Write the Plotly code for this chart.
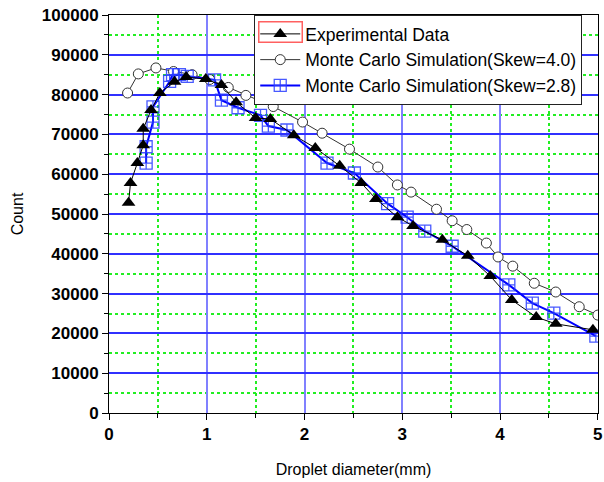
import plotly.graph_objects as go

# Experimental data (triangles)
exp_x = [0.20, 0.22, 0.29, 0.35, 0.35, 0.43, 0.52, 0.67, 0.79, 0.99, 1.15, 1.30, 1.50, 1.65,
         1.89, 2.11, 2.36, 2.58, 2.73, 2.95, 3.11, 3.41, 3.67, 3.90, 4.12, 4.37, 4.57, 4.95]
exp_y = [52800, 57800, 62800, 67300, 71400, 76100, 80400, 83200, 84400, 83900, 82400, 78100, 74100, 73900,
         69800, 66600, 62100, 57800, 53800, 49200, 47000, 43500, 39500, 34400, 28400, 24100, 22400, 20900]

# Monte Carlo Skew=4.0 (open circles)
mc4_x = [0.19, 0.30, 0.48, 0.66, 0.85, 1.03, 1.22, 1.40, 1.68, 1.98, 2.18, 2.46, 2.75, 2.95, 3.09,
         3.35, 3.51, 3.66, 3.86, 3.98, 4.13, 4.35, 4.57, 4.81, 5.00]
mc4_y = [80400, 85200, 86700, 85800, 85000, 83800, 81800, 79800, 77000, 73100, 70300, 66300, 61800, 57300, 55500,
         51200, 48300, 46100, 42700, 39200, 36900, 32600, 30400, 26700, 24600]

# Monte Carlo Skew=2.8 (squares with cross)
mc28_x = [0.38, 0.38, 0.45, 0.45, 0.62, 0.65, 0.72, 0.80, 1.08, 1.15, 1.32, 1.55, 1.63, 1.82,
          2.23, 2.51, 2.85, 3.05, 3.23, 3.51, 4.09, 4.33, 4.55, 4.98]
mc28_y = [62800, 66900, 73100, 76900, 83300, 85000, 85000, 84600, 83700, 78600, 76700, 74800, 72100, 71100,
          62800, 60300, 52600, 49200, 45700, 41900, 32200, 27600, 25100, 19300]

x_ticks = [0, 1, 2, 3, 4, 5]
y_ticks = [0, 10000, 20000, 30000, 40000, 50000, 60000, 70000, 80000, 90000, 100000]

fig = go.Figure()

fig.add_trace(go.Scatter(
    x=mc4_x, y=mc4_y, mode="lines+markers", name="Monte Carlo Simulation(Skew=4.0)",
    line=dict(color="#333333", width=1),
    marker=dict(symbol="circle", size=10, color="white", line=dict(color="#333333", width=1)),
    legendrank=2,
))
fig.add_trace(go.Scatter(
    x=mc28_x, y=mc28_y, mode="lines+markers", name="Monte Carlo Simulation(Skew=2.8)",
    line=dict(color="#0000ff", width=2),
    marker=dict(symbol="square-cross-open", size=12, color="rgba(40,60,255,0.85)", line=dict(width=1.3)),
    legendrank=3,
))
fig.add_trace(go.Scatter(
    x=exp_x, y=exp_y, mode="lines+markers", name="Experimental Data",
    line=dict(color="black", width=1),
    marker=dict(symbol="triangle-up", size=12, color="black"),
    legendrank=1,
))

tickfont = dict(family="Liberation Sans, Arial", size=17, color="black", weight="bold")

fig.update_layout(
    width=604, height=482,
    margin=dict(l=109, r=6, t=15, b=69, autoexpand=False),
    paper_bgcolor="white", plot_bgcolor="white",
    font=dict(family="Liberation Sans, Arial", size=14, color="black"),
    legend=dict(
        x=0.297, y=1, xanchor="left", yanchor="top",
        bgcolor="white", bordercolor="#222222", borderwidth=1,
        font=dict(size=17.5, color="black"), tracegroupgap=0,
        itemwidth=40,
    ),
    xaxis=dict(
        range=[0, 5.002], tickvals=x_ticks, ticktext=[str(v) for v in x_ticks],
        ticklabeloverflow="allow", automargin=False,
        showline=True, linecolor="black", linewidth=1, mirror=True,
        ticks="outside", ticklen=6, tickcolor="black",
        showgrid=True, gridcolor="#8080ff", gridwidth=1.5,
        zeroline=False,
        minor=dict(dtick=0.5, showgrid=True, gridcolor="#22ee22", griddash="3px,3px",
                   ticks="outside", ticklen=4, tickcolor="black"),
        tickfont=tickfont,
        title=dict(text="Droplet diameter(mm)", font=dict(size=16), standoff=20),
    ),
    yaxis=dict(
        range=[0, 100000], tickvals=y_ticks, ticktext=[str(v) for v in y_ticks],
        automargin=False,
        showline=True, linecolor="black", linewidth=1, mirror=True,
        ticks="outside", ticklen=6, tickcolor="black",
        showgrid=True, gridcolor="#3030ff", gridwidth=1.5,
        zeroline=False,
        minor=dict(dtick=5000, showgrid=True, gridcolor="#22ee22", griddash="3px,3px",
                   ticks="outside", ticklen=4, tickcolor="black"),
        tickfont=tickfont,
        title=dict(text="Count", font=dict(size=16), standoff=14),
    ),
)

fig.add_annotation(xref="paper", yref="paper", x=0.305, y=0.985, xanchor="left", yanchor="top",
                   text=" ", showarrow=False, width=42, height=19,
                   bordercolor="#ff6060", borderwidth=1.5, borderpad=0)

fig.write_html("out.html")
